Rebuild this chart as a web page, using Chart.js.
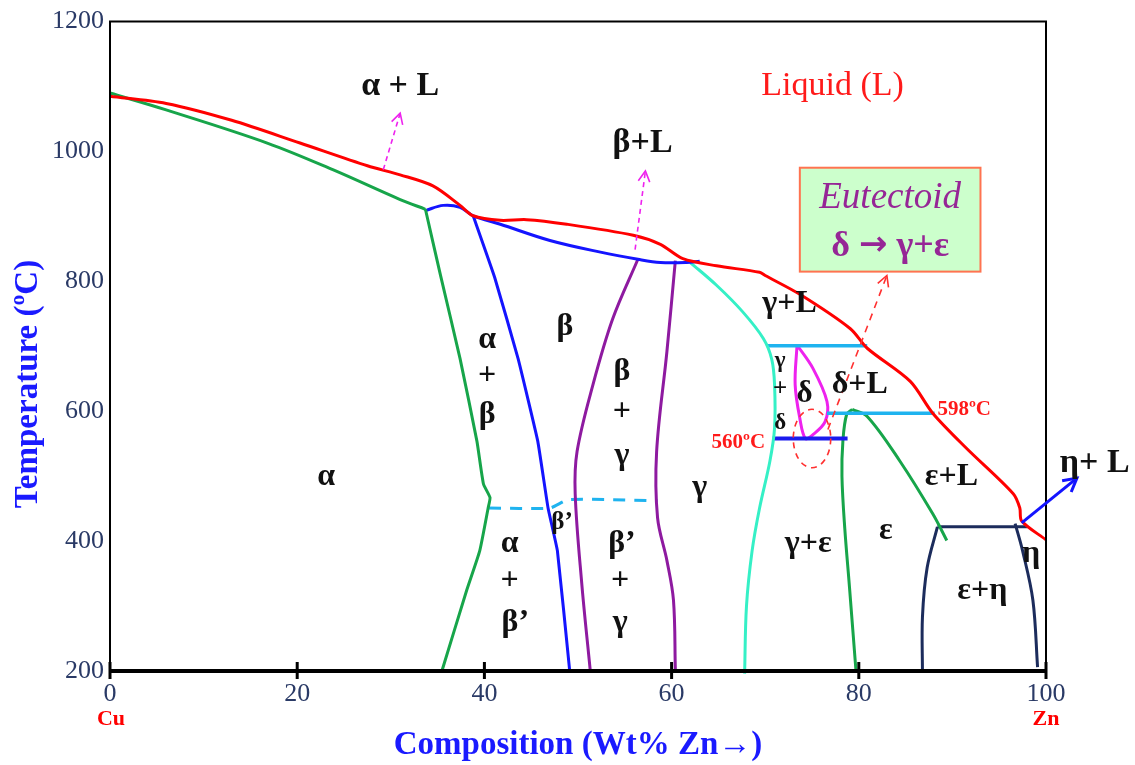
<!DOCTYPE html>
<html><head><meta charset="utf-8">
<script src="https://cdn.jsdelivr.net/npm/chart.js@4.4.0/dist/chart.umd.min.js"></script>
<style>html,body{margin:0;padding:0;background:#fff;}#wrap{width:1135px;height:765px;}</style>
</head><body><div id="wrap"><canvas id="c" width="1135" height="765"></canvas></div>
<script>
// ---- data (composition wt% Zn, temperature °C) ----
const xTicks = [0, 20, 40, 60, 80, 100];
const yTicks = [200, 400, 600, 800, 1000, 1200];
const liquidus = [[0,1085],[6,1074],[13,1048],[20.3,1013],[27.5,978],[31,964],[34.5,947],[37.4,917],[38.8,901],[41.7,894],[44.5,895],[48.8,888],[55.9,871],[58.8,857],[61.2,835],[64.8,824],[69.4,814],[70,809],[73.7,780],[79.1,727],[80.9,697],[85.5,646],[87.9,597],[91.5,543],[96.5,473],[97.2,451],[97.4,431],[100,402]];
const alphaSolidus = [[0,1090],[6,1064],[16.8,1013],[23.8,972],[31,926],[33.7,911]];
const alphaSolvus = [[33.7,911],[35.3,810],[37.4,681],[39.2,554],[39.9,488],[40.6,467],[40.4,451],[39.5,385],[38.1,324],[35.5,202]];
const betaTop = [[33.7,909],[35.6,917],[37.4,914],[38.8,901],[41.7,888],[47,863],[52.4,845],[56.4,834],[58.8,829],[61.6,829],[63,831]];
const betaLeft = [[38.8,901],[41.1,806],[43.6,681],[45.7,554],[46.8,451],[47.8,385],[49.1,202]];
const gammaLeft = [[56.4,834],[53.7,742],[51.6,641],[49.9,538],[49.7,473],[50.4,335],[51.3,202]];
const gammaRight = [[60.4,832],[59.5,692],[58.4,538],[58.5,436],[59.5,370],[60.2,309],[60.4,202]];
const orderLine = [[40.5,451],[47,451],[49,464],[58.5,462]];
const gammaBound = [[62,829],[64.8,794],[67.6,753],[69.8,712],[70.7,680],[71,641],[71,574],[70.5,523],[69.4,451],[68.6,385],[68,300],[67.8,196]];
const peri700 = [[70.3,701],[80.9,701]];
const peri598 = [[76.6,597],[88.1,597]];
const eutd560 = [[70.8,558],[78.8,558]];
const deltaLoop = [[73.4,702],[73.2,641],[73.7,589],[74.3,558],[75.1,564],[76.4,584],[76.6,615],[75.1,666],[73.4,702]];
const epsRight = [[79.3,603],[80.9,592],[84.4,523],[87.9,442],[89.4,401]];
const epsLeft = [[79.3,603],[78.7,595],[78.3,554],[78.2,500],[78.5,420],[79,330],[79.7,200]];
const eutc424 = [[88.4,422],[98,422]];
const etaLeft = [[88.4,422],[87.3,359],[86.8,283],[86.8,198]];
const etaRight = [[96.7,427],[97.5,385],[98.6,309],[99.1,206]];

// region labels [text, x%, T, size, color, style]
const regionLabels = [
 ['α + L',31.0,1100,34,'#111','bold'],
 ['Liquid (L)',77.2,1100,34,'#ff1a1a','normal'],
 ['β+L',56.9,1013,34,'#111','bold'],
 ['α',23.1,499,32,'#111','bold'],
 ['α',40.3,710,32,'#111','bold'],['+',40.3,655,32,'#111','bold'],['β',40.3,594,32,'#111','bold'],
 ['β',48.6,730,32,'#111','bold'],
 ['β',54.7,661,32,'#111','bold'],['+',54.7,600,32,'#111','bold'],['γ',54.7,531,32,'#111','bold'],
 ['γ',63.0,482,32,'#111','bold'],
 ['β’',48.3,428,25,'#111','bold'],
 ['α',42.7,396,32,'#111','bold'],['+',42.7,339,32,'#111','bold'],['β’',43.3,275,32,'#111','bold'],
 ['β’',54.7,396,32,'#111','bold'],['+',54.5,339,32,'#111','bold'],['γ',54.5,275,32,'#111','bold'],
 ['γ+L',72.6,765,32,'#111','bold'],
 ['γ',71.6,677,23,'#111','bold'],['+',71.6,633,25,'#111','bold'],['δ',74.2,627,31,'#111','bold'],['δ',71.6,582,23,'#111','bold'],
 ['δ+L',80.1,641,32,'#111','bold'],
 ['ε+L',89.9,499,32,'#111','bold'],
 ['γ+ε',74.6,396,32,'#111','bold'],
 ['ε',82.9,416,32,'#111','bold'],
 ['ε+η',93.2,324,32,'#111','bold'],
 ['η',98.4,381,32,'#111','bold'],
 ['η+ L',105.2,520,34,'#111','bold']
];

const FONT = '"Liberation Serif", "DejaVu Serif", serif';
const pts = a => a.map(p => ({x:p[0], y:p[1]}));
function ds(data, color, width, extra) {
  return Object.assign({data: pts(data), borderColor: color, borderWidth: width, showLine: true,
    pointRadius: 0, tension: 0.35, fill: false}, extra || {});
}
const RED='#ff0000', GREEN='#17a54a', BLUE='#1414ff', PURPLE='#8e1aa0', CYAN='#35f0c6',
      LBLUE='#1fb3ef', MAG='#ee22ee', NAVY='#1c2c5c', DBLUE='#1a1aee';

const datasets = [
  ds(liquidus, RED, 3, {tension:0.3}),
  ds(alphaSolidus, GREEN, 3),
  ds(alphaSolvus, GREEN, 3, {tension:0.15}),
  ds(betaTop, BLUE, 3),
  ds(betaLeft, BLUE, 3, {tension:0.1}),
  ds(gammaLeft, PURPLE, 3),
  ds(gammaRight, PURPLE, 3),
  ds(orderLine, LBLUE, 3, {borderDash:[12,9], tension:0.2}),
  ds(gammaBound, CYAN, 3),
  ds(peri700, LBLUE, 3.5, {tension:0}),
  ds(peri598, LBLUE, 3.5, {tension:0}),
  ds(eutd560, DBLUE, 4, {tension:0}),
  ds(deltaLoop, MAG, 3, {tension:0.35}),
  ds(epsRight, GREEN, 3),
  ds(epsLeft, GREEN, 3),
  ds(eutc424, NAVY, 3, {tension:0}),
  ds(etaLeft, NAVY, 3),
  ds(etaRight, NAVY, 3)
];

function arrow(ctx, x1, y1, x2, y2, color, width, dash, head) {
  ctx.save();
  ctx.strokeStyle = color; ctx.lineWidth = width; ctx.setLineDash(dash);
  ctx.beginPath(); ctx.moveTo(x1, y1); ctx.lineTo(x2, y2); ctx.stroke();
  ctx.setLineDash([]);
  const a = Math.atan2(y2 - y1, x2 - x1);
  ctx.beginPath();
  ctx.moveTo(x2 - head*Math.cos(a - 0.5), y2 - head*Math.sin(a - 0.5));
  ctx.lineTo(x2, y2);
  ctx.lineTo(x2 - head*Math.cos(a + 0.5), y2 - head*Math.sin(a + 0.5));
  ctx.stroke();
  ctx.restore();
}

const decor = {
  id: 'decor',
  afterDatasetsDraw(chart) {
    const ctx = chart.ctx, xs = chart.scales.x, ys = chart.scales.y, ca = chart.chartArea;
    const X = v => xs.getPixelForValue(v), Y = v => ys.getPixelForValue(v);
    // frame
    ctx.save();
    ctx.strokeStyle = '#000'; ctx.lineWidth = 2;
    ctx.beginPath();
    ctx.moveTo(ca.left, ca.bottom); ctx.lineTo(ca.left, ca.top); ctx.lineTo(ca.right, ca.top); ctx.lineTo(ca.right, ca.bottom);
    ctx.stroke();
    ctx.lineWidth = 4;
    ctx.beginPath(); ctx.moveTo(ca.left, ca.bottom); ctx.lineTo(ca.right, ca.bottom); ctx.stroke();
    ctx.lineWidth = 3;
    xTicks.forEach(t => {
      ctx.beginPath(); ctx.moveTo(X(t), ca.bottom - 9); ctx.lineTo(X(t), ca.bottom + 8); ctx.stroke();
    });
    ctx.restore();

    // Cu / Zn
    ctx.save();
    ctx.fillStyle = '#ff0000'; ctx.font = 'bold 22px ' + FONT; ctx.textAlign = 'center'; ctx.textBaseline = 'middle';
    ctx.fillText('Cu', X(0) + 1, 719);
    ctx.fillText('Zn', X(100), 719);
    ctx.restore();

    // y title
    ctx.save();
    ctx.translate(28, 384); ctx.rotate(-Math.PI/2);
    ctx.fillStyle = '#1a1aff'; ctx.font = 'bold 33px ' + FONT; ctx.textAlign = 'center'; ctx.textBaseline = 'middle';
    ctx.fillText('Temperature (ºC)', 0, 0);
    ctx.restore();

    // arrows
    arrow(ctx, X(29.2), Y(972), X(31.0), Y(1059), MAG, 1.6, [5,4], 12);
    arrow(ctx, X(56.1), Y(849), X(57.2), Y(970), MAG, 1.6, [5,4], 12);
    arrow(ctx, X(76.7), Y(572), X(83.0), Y(809), '#ff3030', 1.6, [7,6], 12);
    arrow(ctx, X(97.4), Y(428), X(103.3), Y(497), '#1414ff', 3, [], 15);

    // dashed ellipse
    ctx.save();
    ctx.strokeStyle = '#ff3030'; ctx.lineWidth = 1.6; ctx.setLineDash([6,5]);
    ctx.beginPath();
    ctx.ellipse(X(75), Y(558), Math.abs(X(77) - X(75)), Math.abs(Y(603) - Y(558)), 0, 0, Math.PI*2);
    ctx.stroke();
    ctx.restore();

    // eutectoid box
    ctx.save();
    const bx1 = X(73.7), bx2 = X(93.0), by1 = Y(975), by2 = Y(815);
    ctx.fillStyle = '#ccffcc'; ctx.fillRect(bx1, by1, bx2 - bx1, by2 - by1);
    ctx.strokeStyle = '#ff7350'; ctx.lineWidth = 2; ctx.strokeRect(bx1, by1, bx2 - bx1, by2 - by1);
    ctx.fillStyle = '#962696'; ctx.textBaseline = 'middle';
    ctx.textAlign = 'center';
    ctx.font = 'italic 37px ' + FONT;
    ctx.fillText('Eutectoid', (bx1 + bx2)/2, by1 + 31);
    // second line: δ → γ+ε  (arrow drawn with a sans glyph, larger)
    const fA = 'bold 36px ' + FONT, fB = 'bold 34px "DejaVu Sans", sans-serif';
    const p1 = 'δ ', p2 = '→', p3 = ' γ+ε';
    ctx.font = fA; const w1 = ctx.measureText(p1).width, w3 = ctx.measureText(p3).width;
    ctx.font = fB; const w2 = ctx.measureText(p2).width;
    let sx = (bx1 + bx2)/2 - (w1 + w2 + w3)/2, ty = by1 + 79;
    ctx.textAlign = 'left';
    ctx.font = fA; ctx.fillText(p1, sx, ty);
    ctx.font = fB; ctx.fillText(p2, sx + w1, ty - 1);
    ctx.font = fA; ctx.fillText(p3, sx + w1 + w2, ty);
    ctx.restore();

    // temperature annotations
    ctx.save();
    ctx.fillStyle = '#ff1a1a'; ctx.font = 'bold 21px ' + FONT; ctx.textBaseline = 'middle';
    ctx.textAlign = 'left'; ctx.fillText('598ºC', X(88.4), Y(602));
    ctx.textAlign = 'right'; ctx.fillText('560ºC', X(70.0), Y(551));
    ctx.restore();

    // region labels
    ctx.save();
    ctx.textAlign = 'center'; ctx.textBaseline = 'middle';
    regionLabels.forEach(l => {
      ctx.font = l[5] + ' ' + l[3] + 'px ' + FONT;
      ctx.fillStyle = l[4];
      ctx.fillText(l[0], X(l[1]), Y(l[2]));
    });
    ctx.restore();
  }
};

new Chart(document.getElementById('c'), {
  type: 'scatter',
  data: { datasets },
  options: {
    responsive: false, animation: false, clip: false,
    layout: { padding: { left: 0, right: 89, top: 18, bottom: 0 } },
    plugins: { legend: { display: false }, tooltip: { enabled: false } },
    scales: {
      x: {
        type: 'linear', min: 0, max: 100,
        afterBuildTicks: s => { s.ticks = xTicks.map(v => ({value: v})); },
        afterFit: s => { s.height = 94; },
        grid: { display: false, drawTicks: false },
        border: { display: false },
        ticks: { color: '#2a3a66', font: { family: FONT, size: 26 }, padding: 8, maxRotation: 0,
                 callback: v => String(v) },
        title: { display: true, text: 'Composition (Wt% Zn→)', color: '#1a1aff',
                 font: { family: FONT, size: 33, weight: 'bold' }, padding: { top: 0, bottom: 0 } }
      },
      y: {
        type: 'linear', min: 200, max: 1200,
        afterBuildTicks: s => { s.ticks = yTicks.map(v => ({value: v})); },
        afterFit: s => { s.width = 110; },
        grid: { display: false, drawTicks: false },
        border: { display: false },
        ticks: { color: '#2a3a66', font: { family: FONT, size: 26 }, padding: 6, callback: v => String(v) }
      }
    }
  },
  plugins: [decor]
});
</script></body></html>
